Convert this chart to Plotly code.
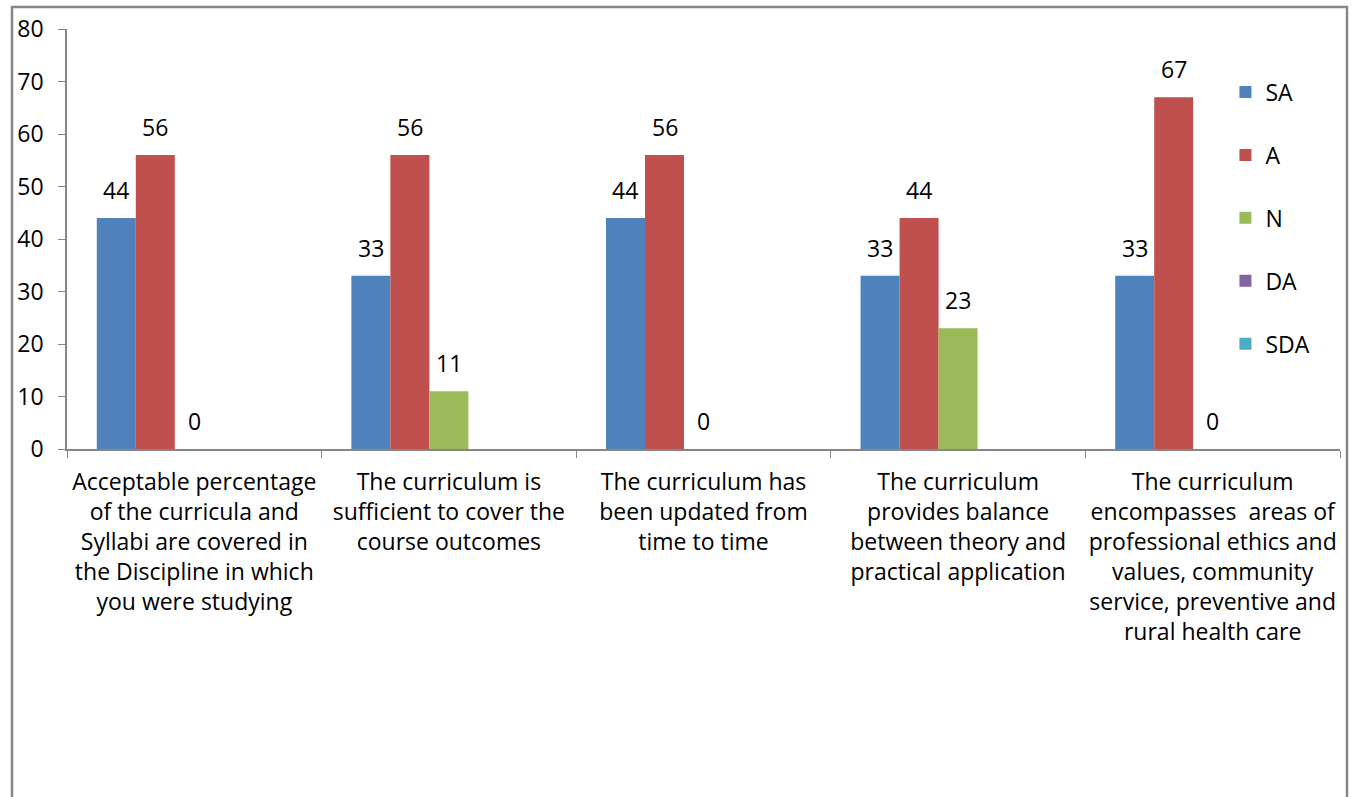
import plotly.graph_objects as go

categories = [
    "Acceptable percentage<br>of the curricula and<br>Syllabi are covered in<br>the Discipline in which<br>you were studying",
    "The curriculum is<br>sufficient to cover the<br>course outcomes",
    "The curriculum has<br>been updated from<br>time to time",
    "The curriculum<br>provides balance<br>between theory and<br>practical application",
    "The curriculum<br>encompasses  areas of<br>professional ethics and<br>values, community<br>service, preventive and<br>rural health care",
]
series_names = ["SA", "A", "N", "DA", "SDA"]
SA = [44, 33, 44, 33, 33]
A = [56, 56, 56, 44, 67]
N = [0, 11, 0, 23, 0]
DA = [None, None, None, None, None]
SDA = [None, None, None, None, None]
series_values = [SA, A, N, DA, SDA]
colors = ["#4F81BD", "#C0504D", "#9BBB59", "#8064A2", "#4BACC6"]

FONT = "Open Sans"
FS = 23
BARGAP = 0.234
AXIS_COLOR = "#868686"

xidx = list(range(len(categories)))
fig = go.Figure()
for name, vals, col in zip(series_names, series_values, colors):
    fig.add_trace(go.Bar(
        name=name, x=xidx, y=vals, marker=dict(color=col, line=dict(width=0)),
        legendgroup=name,
    ))

# data labels above bars
nser = len(series_names)
bw = (1 - BARGAP) / nser
annotations = []
for j, vals in enumerate(series_values):
    for i, v in enumerate(vals):
        if v is None:
            continue
        annotations.append(dict(
            x=i - (1 - BARGAP) / 2 + (j + 0.5) * bw, y=v, xref="x", yref="y",
            text=str(v), showarrow=False, yanchor="middle", yshift=28,
            font=dict(family=FONT, size=FS, color="#000000"),
        ))

fig.update_layout(
    width=1354, height=797,
    barmode="group", bargap=BARGAP, bargroupgap=0,
    paper_bgcolor="white", plot_bgcolor="white",
    margin=dict(l=67, r=14, t=27, b=348),
    font=dict(family=FONT, size=FS, color="#000000"),
    showlegend=True,
    legend=dict(x=0.91, y=0.901, xanchor="left", yanchor="top",
                font=dict(family=FONT, size=FS), tracegroupgap=30,
                bgcolor="rgba(0,0,0,0)", itemwidth=30),
    annotations=annotations,
    shapes=[dict(type="rect", xref="paper", yref="paper",
                 x0=(12 - 67) / 1273, x1=(1347 - 67) / 1273,
                 y0=-2, y1=(449 - 5) / 422,
                 line=dict(color=AXIS_COLOR, width=2.5), fillcolor="rgba(0,0,0,0)",
                 layer="below")],
)
fig.update_xaxes(
    type="category", tickmode="array", tickvals=xidx, ticktext=categories,
    range=[-0.5, len(categories) - 0.5],
    tickson="boundaries", ticks="outside", ticklen=7, tickcolor=AXIS_COLOR,
    showline=True, linecolor=AXIS_COLOR, linewidth=1.5, showgrid=False,
    tickangle=0, tickfont=dict(family=FONT, size=FS), ticklabelstandoff=12,
)
fig.update_yaxes(
    range=[0, 80], dtick=10, tick0=0, ticks="outside", ticklen=7, tickcolor=AXIS_COLOR,
    showline=True, linecolor=AXIS_COLOR, linewidth=1.5, showgrid=False, zeroline=False,
    tickfont=dict(family=FONT, size=FS), ticklabelstandoff=10,
)

fig.write_html("out.html", config={"displayModeBar": False},
               post_script="document.body.style.margin='0';")
